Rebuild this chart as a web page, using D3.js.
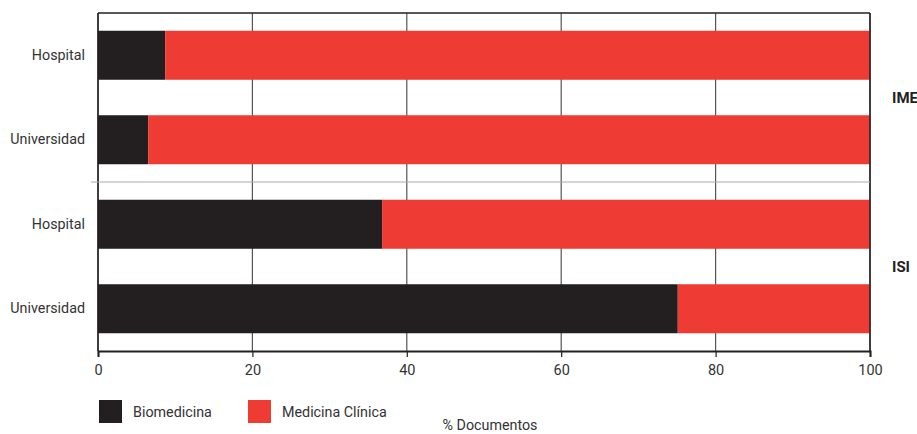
<!DOCTYPE html>
<html><head><meta charset="utf-8">
<script src="https://cdn.jsdelivr.net/npm/d3@7"></script>
<style>body{margin:0;background:#fff}svg{display:block}text{font-family:Roboto,"Open Sans",sans-serif}</style>
</head><body>
<script>
const rows = ["IME-Hospital","IME-Universidad","ISI-Hospital","ISI-Universidad"];
const rowLabels = ["Hospital","Universidad","Hospital","Universidad"];
const groups = ["IME","ISI"];
const biomedicina = [8.7, 6.5, 36.8, 75.1];
const medicinaClinica = [91.3, 93.5, 63.2, 24.9];
const xTicks = [0,20,40,60,80,100];
const seriesNames = ["Biomedicina","Medicina Clínica"];
const colors = ["#231f20","#ee3b33"];

const W=917,H=434;
const m={l:98,r:47,t:13,b:83};
const svg=d3.select("body").append("svg").attr("width",W).attr("height",H);
const x=d3.scaleLinear().domain([0,100]).range([m.l,W-m.r]);
const y=d3.scaleBand().domain(rows).range([m.t,H-m.b]).paddingInner(0.42).paddingOuter(0.21);

svg.append("g").selectAll("line").data(xTicks).join("line")
  .attr("x1",d=>x(d)).attr("x2",d=>x(d)).attr("y1",m.t).attr("y2",H-m.b)
  .attr("stroke","#555").attr("stroke-width",1.2);

const stackData=rows.map((r,i)=>({row:r,b:biomedicina[i],m:medicinaClinica[i]}));
const stack=d3.stack().keys(["b","m"])(stackData);
svg.append("g").selectAll("g").data(stack).join("g").attr("fill",(d,i)=>colors[i])
  .selectAll("rect").data(d=>d).join("rect")
  .attr("x",d=>x(d[0])).attr("width",d=>x(d[1])-x(d[0]))
  .attr("y",d=>y(d.data.row)).attr("height",y.bandwidth());

svg.append("line").attr("x1",x(0)).attr("x2",x(100)).attr("y1",m.t).attr("y2",m.t).attr("stroke","#231f20").attr("stroke-width",1.5);
svg.append("line").attr("x1",x(0)).attr("x2",x(0)).attr("y1",m.t).attr("y2",H-m.b).attr("stroke","#231f20").attr("stroke-width",1.5);
svg.append("line").attr("x1",x(100)).attr("x2",x(100)).attr("y1",m.t).attr("y2",H-m.b).attr("stroke","#231f20").attr("stroke-width",1.5);

const sepY=(y(rows[1])+y.bandwidth()+y(rows[2]))/2;
svg.append("line").attr("x1",x(0)-7).attr("x2",x(100)).attr("y1",sepY).attr("y2",sepY).attr("stroke","#a7a9ac").attr("stroke-width",1.2);

const xa=svg.append("g").attr("transform",`translate(0,${H-m.b})`)
  .call(d3.axisBottom(x).tickValues(xTicks).tickSize(6).tickPadding(8));
xa.select(".domain").attr("stroke","#231f20").attr("stroke-width",2);
xa.selectAll(".tick line").attr("stroke","#231f20").attr("stroke-width",1.2);
xa.selectAll("text").attr("font-size",14.5).attr("fill","#333").style("font-family",'Roboto,"Open Sans",sans-serif');

const ya=svg.append("g").attr("transform",`translate(${m.l},0)`)
  .call(d3.axisLeft(y).tickFormat((d,i)=>rowLabels[i]).tickSize(0).tickPadding(13));
ya.select(".domain").remove();
ya.selectAll("text").attr("font-size",14.3).attr("fill","#333").style("font-family",'Roboto,"Open Sans",sans-serif');

groups.forEach((g,i)=>{
  const cy=(y(rows[2*i])+y(rows[2*i+1])+y.bandwidth())/2;
  svg.append("text").attr("x",892).attr("y",cy).attr("dy","0.35em")
    .attr("font-size",15).attr("font-weight","bold").attr("fill","#231f20").text(g);
});

const lg=svg.append("g");
const lx=[99,248];
seriesNames.forEach((s,i)=>{
  lg.append("rect").attr("x",lx[i]).attr("y",400).attr("width",23).attr("height",23).attr("fill",colors[i]);
  lg.append("text").attr("x",lx[i]+34).attr("y",412).attr("dy","0.35em").attr("font-size",14.3).attr("fill","#333").text(s);
});
svg.append("text").attr("x",490).attr("y",425).attr("dy","0.35em").attr("text-anchor","middle").attr("font-size",14.3).attr("fill","#333").text("% Documentos");
</script>
</body></html>
